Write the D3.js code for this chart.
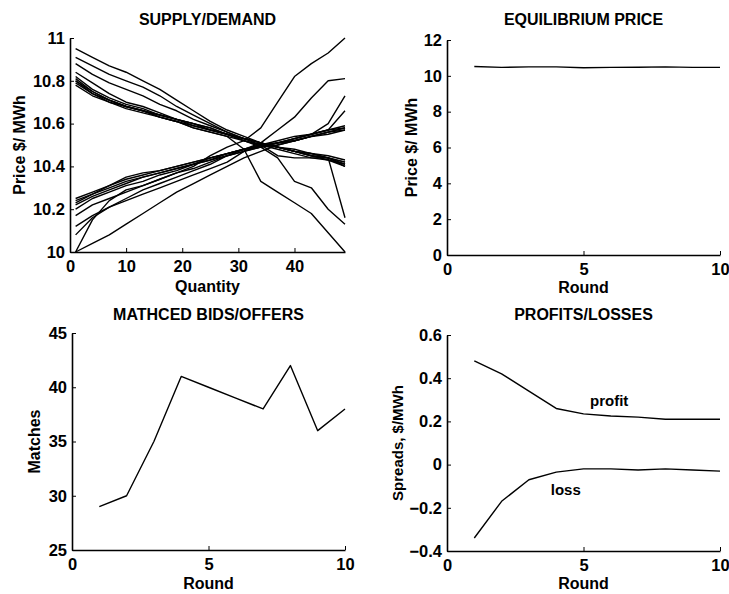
<!DOCTYPE html>
<html><head><meta charset="utf-8">
<script src="https://cdn.jsdelivr.net/npm/d3@7"></script>
<style>
html,body{margin:0;padding:0;background:#fff;}
svg text{font-family:"Liberation Sans",Arial,sans-serif;font-weight:bold;fill:#000;}
</style></head>
<body>
<svg id="chart" width="729" height="594"></svg>
<script>
// ---------- DATA ----------
const quantities = [1,4,7,10,13,16,19,22,25,28,31,34,37,40,43,46,49];
const demandCurves = [
  [10.95,10.91,10.87,10.84,10.80,10.76,10.71,10.66,10.61,10.57,10.54,10.51,10.49,10.47,10.45,10.44,10.42],
  [10.91,10.87,10.83,10.80,10.77,10.73,10.68,10.64,10.60,10.56,10.53,10.51,10.49,10.47,10.46,10.44,10.41],
  [10.88,10.83,10.79,10.76,10.73,10.69,10.66,10.62,10.59,10.56,10.53,10.50,10.45,10.44,10.44,10.44,10.16],
  [10.84,10.79,10.74,10.70,10.68,10.65,10.62,10.60,10.57,10.55,10.52,10.50,10.48,10.46,10.44,10.43,10.41],
  [10.80,10.74,10.71,10.68,10.66,10.64,10.62,10.60,10.58,10.55,10.52,10.49,10.44,10.33,10.30,10.20,10.13],
  [10.81,10.75,10.71,10.68,10.66,10.63,10.61,10.58,10.56,10.54,10.48,10.33,10.28,10.23,10.18,10.09,10.00],
  [10.82,10.76,10.72,10.69,10.67,10.64,10.62,10.60,10.58,10.55,10.53,10.51,10.49,10.47,10.45,10.43,10.40],
  [10.80,10.75,10.71,10.68,10.66,10.64,10.62,10.59,10.57,10.55,10.53,10.51,10.49,10.47,10.46,10.44,10.42],
  [10.79,10.74,10.70,10.67,10.65,10.63,10.61,10.59,10.57,10.55,10.53,10.51,10.49,10.48,10.46,10.45,10.43],
  [10.78,10.73,10.70,10.68,10.66,10.63,10.61,10.58,10.56,10.54,10.52,10.50,10.49,10.47,10.45,10.44,10.40]
];
const supplyCurves = [
  [10.25,10.28,10.31,10.34,10.36,10.38,10.40,10.42,10.44,10.46,10.48,10.49,10.51,10.52,10.54,10.56,10.58],
  [10.23,10.27,10.30,10.33,10.35,10.37,10.39,10.41,10.43,10.45,10.47,10.49,10.50,10.52,10.54,10.56,10.57],
  [10.24,10.27,10.31,10.35,10.37,10.38,10.40,10.42,10.44,10.46,10.48,10.50,10.51,10.53,10.55,10.57,10.59],
  [10.22,10.26,10.29,10.32,10.35,10.37,10.39,10.41,10.44,10.46,10.48,10.49,10.51,10.52,10.54,10.55,10.57],
  [10.20,10.25,10.28,10.31,10.33,10.36,10.38,10.41,10.43,10.46,10.48,10.50,10.51,10.53,10.55,10.57,10.66],
  [10.17,10.22,10.25,10.28,10.31,10.34,10.37,10.39,10.42,10.45,10.47,10.49,10.51,10.53,10.55,10.60,10.73],
  [10.12,10.17,10.21,10.25,10.29,10.32,10.35,10.38,10.41,10.45,10.48,10.51,10.57,10.63,10.72,10.80,10.81],
  [10.08,10.16,10.21,10.24,10.27,10.30,10.33,10.36,10.39,10.42,10.47,10.50,10.52,10.54,10.55,10.57,10.58],
  [10.00,10.15,10.24,10.29,10.31,10.34,10.37,10.40,10.45,10.49,10.52,10.58,10.70,10.82,10.88,10.93,11.00],
  [10.00,10.04,10.08,10.13,10.18,10.23,10.28,10.32,10.36,10.40,10.44,10.47,10.50,10.52,10.54,10.56,10.58]
];
const rounds = [1,2,3,4,5,6,7,8,9,10];
const eqPrice = [10.52,10.47,10.50,10.50,10.45,10.47,10.48,10.50,10.47,10.47];
const matches = [29,30,35,41,40,39,38,42,36,38];
const profit = [0.48,0.42,0.34,0.26,0.235,0.225,0.22,0.21,0.21,0.21];
const loss = [-0.34,-0.17,-0.07,-0.035,-0.02,-0.02,-0.025,-0.02,-0.025,-0.03];
const sdYTicks = [10,10.2,10.4,10.6,10.8,11];
const sdXTicks = [0,10,20,30,40];
const eqYTicks = [0,2,4,6,8,10,12];
const roundTicks = [0,5,10];
const matchTicks = [25,30,35,40,45];
const spreadTicks = [-0.4,-0.2,0,0.2,0.4,0.6];

// ---------- DRAW ----------
const svg = d3.select("#chart");

function panel(o) {
  const g = svg.append("g");
  const x = d3.scaleLinear().domain(o.xDomain).range([o.left, o.right]);
  const y = d3.scaleLinear().domain(o.yDomain).range([o.bottom, o.top]);
  const fmt = o.fmt || (d => d3.format("~g")(d));
  const xa = g.append("g").attr("transform", `translate(0,${o.bottom})`)
    .call(d3.axisBottom(x).tickValues(o.xTicks).tickSizeInner(-4).tickSizeOuter(0).tickPadding(8).tickFormat(fmt));
  const ya = g.append("g").attr("transform", `translate(${o.left},0)`)
    .call(d3.axisLeft(y).tickValues(o.yTicks).tickSizeInner(-4).tickSizeOuter(0).tickPadding(5).tickFormat(o.yFmt || fmt));
  [xa, ya].forEach(a => {
    a.select(".domain").attr("stroke", "#000").attr("stroke-width", 1.6);
    a.selectAll(".tick line").attr("stroke", "#000").attr("stroke-width", 1);
    a.selectAll(".tick text").style("font-size", "16.5px").style("font-family", '"Liberation Sans",Arial,sans-serif').style("font-weight", "bold").attr("fill", "#000");
  });
  xa.selectAll(".tick text").attr("dy", "0.71em");
  g.append("text").attr("x", (o.left + o.right) / 2).attr("y", o.titleY)
    .attr("text-anchor", "middle").style("font-size", "16px").text(o.title);
  g.append("text").attr("x", (o.left + o.right) / 2).attr("y", o.xLabelY)
    .attr("text-anchor", "middle").style("font-size", "16px").text(o.xLabel);
  g.append("text").attr("transform", `translate(${o.yLabelX},${(o.top + o.bottom) / 2}) rotate(-90)`)
    .attr("text-anchor", "middle").attr("dy", "0.35em").style("font-size", o.yLabelSize || "16px").text(o.yLabel);
  return {g, x, y};
}

function drawLine(p, xs, ys) {
  const line = d3.line().x((d, i) => p.x(xs[i])).y(d => p.y(d));
  p.g.append("path").datum(ys).attr("d", line)
    .attr("fill", "none").attr("stroke", "#000").attr("stroke-width", 1.4)
    .attr("stroke-linejoin", "round");
}

// Supply/Demand
const p1 = panel({left:70, right:345, top:38, bottom:252, xDomain:[0,49], yDomain:[10,11],
  xTicks:sdXTicks, yTicks:sdYTicks, title:"SUPPLY/DEMAND", titleY:25, xLabel:"Quantity", xLabelY:292,
  yLabel:"Price $/ MWh", yLabelX:19});
demandCurves.forEach(c => drawLine(p1, quantities, c));
supplyCurves.forEach(c => drawLine(p1, quantities, c));

// Equilibrium price
const p2 = panel({left:447, right:720, top:40, bottom:255, xDomain:[0,10], yDomain:[0,12],
  xTicks:roundTicks, yTicks:eqYTicks, title:"EQUILIBRIUM PRICE", titleY:25, xLabel:"Round", xLabelY:293,
  yLabel:"Price $/ MWh", yLabelX:411});
drawLine(p2, rounds, eqPrice);

// Matched bids/offers
const p3 = panel({left:72, right:345, top:333, bottom:550, xDomain:[0,10], yDomain:[25,45],
  xTicks:roundTicks, yTicks:matchTicks, title:"MATHCED BIDS/OFFERS", titleY:320, xLabel:"Round", xLabelY:589,
  yLabel:"Matches", yLabelX:34});
drawLine(p3, rounds, matches);

// Profits/losses
const p4 = panel({left:447, right:720, top:335, bottom:551, xDomain:[0,10], yDomain:[-0.4,0.6],
  xTicks:roundTicks, yTicks:spreadTicks, title:"PROFITS/LOSSES", titleY:320, xLabel:"Round", xLabelY:589,
  yLabel:"Spreads, $/MWh", yLabelX:398, yLabelSize:"15px",
  yFmt: d => d3.format("~g")(+d.toFixed(1))});
drawLine(p4, rounds, profit);
drawLine(p4, rounds, loss);
p4.g.append("text").attr("x", p4.x(5.24)).attr("y", p4.y(0.27)).style("font-size", "15px").text("profit");
p4.g.append("text").attr("x", p4.x(3.8)).attr("y", p4.y(-0.14)).style("font-size", "15px").text("loss");
</script>
</body></html>
